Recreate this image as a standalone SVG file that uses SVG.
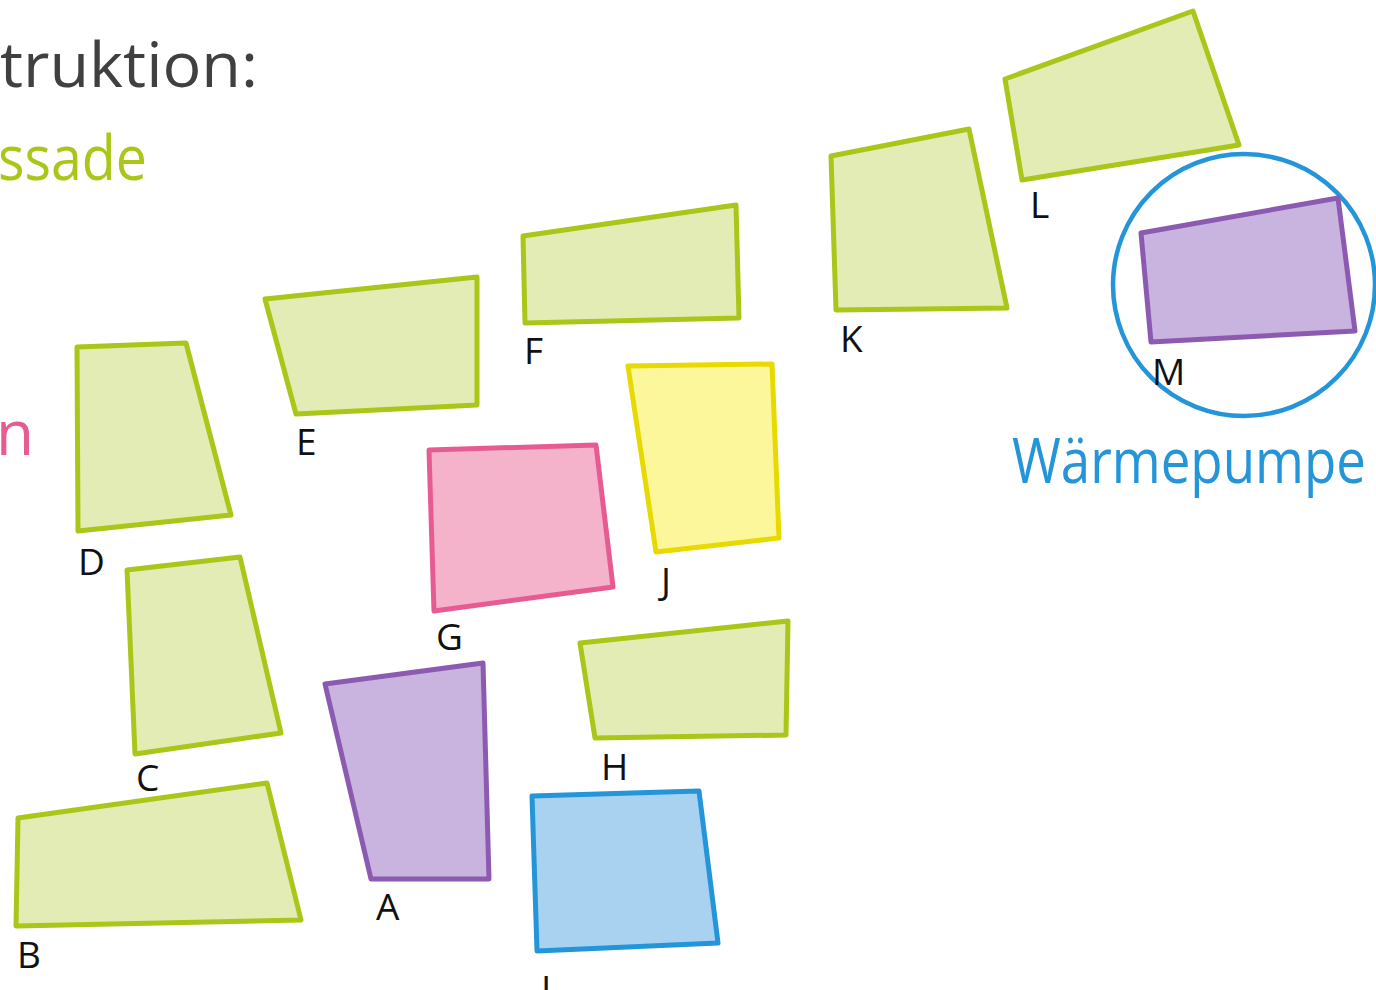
<svg xmlns="http://www.w3.org/2000/svg" width="1376" height="990" viewBox="0 0 1376 990">
<style>
.g{fill:#e2ecb4;stroke:#a9c619;stroke-width:5;stroke-linejoin:round}
.p{fill:#c9b3df;stroke:#8c5bb1;stroke-width:5;stroke-linejoin:round}
.k{fill:#f5b2cb;stroke:#e65c92;stroke-width:5;stroke-linejoin:round}
.y{fill:#fcf79a;stroke:#e8d900;stroke-width:5;stroke-linejoin:round}
.b{fill:#a9d2f0;stroke:#2595d9;stroke-width:5;stroke-linejoin:round}
.l{font-family:"Open Sans","Liberation Sans",sans-serif;font-size:37px;fill:#111}
.h{font-family:"Open Sans","Liberation Sans",sans-serif;font-size:62px}
</style>
<rect width="1376" height="990" fill="#fff"/>
<text class="h" x="0" y="87" fill="#404040" textLength="258" lengthAdjust="spacingAndGlyphs">truktion:</text>
<text class="h" x="-2" y="180" fill="#a9c619" textLength="149" lengthAdjust="spacingAndGlyphs">ssade</text>
<text class="h" x="-4" y="455" fill="#e65c92">n</text>
<text class="h" x="1012" y="483" fill="#2595d9" font-size="55" textLength="354" lengthAdjust="spacingAndGlyphs">Wärmepumpe</text>
<g id="L"><polygon class="g" points="1005,79 1193,11 1239,145 1022,180"/><text class="l" x="1030" y="218">L</text></g>
<g id="K"><polygon class="g" points="831,156 969,129 1007,308 836,310"/><text class="l" x="840" y="352">K</text></g>
<g id="F"><polygon class="g" points="523,236 736,205 739,318 525,323"/><text class="l" x="524" y="364">F</text></g>
<g id="E"><polygon class="g" points="265,299 477,277 477,405 296,414"/><text class="l" x="296" y="455">E</text></g>
<g id="D"><polygon class="g" points="77,347 186,343 231,515 78,531"/><text class="l" x="78" y="575">D</text></g>
<g id="G"><polygon class="k" points="429,450 596,445 613,587 434,611"/><text class="l" x="436" y="650">G</text></g>
<g id="J"><polygon class="y" points="628,366 772,364 779,538 656,552"/><text class="l" x="661" y="594">J</text></g>
<g id="M"><circle cx="1244" cy="285" r="131" fill="none" stroke="#2595d9" stroke-width="4.5"/><polygon class="p" points="1141,233 1338,198 1355,331 1151,342"/><text class="l" x="1152" y="385">M</text></g>
<g id="C"><polygon class="g" points="127,570 240,557 281,733 135,754"/><text class="l" x="136" y="791">C</text></g>
<g id="A"><polygon class="p" points="325,684 483,663 489,879 371,879"/><text class="l" x="376" y="920">A</text></g>
<g id="H"><polygon class="g" points="580,643 788,621 786,735 595,738"/><text class="l" x="601" y="780">H</text></g>
<g id="B"><polygon class="g" points="18,818 267,783 301,920 16,926"/><text class="l" x="17" y="968">B</text></g>
<g id="I"><polygon class="b" points="532,796 699,791 718,943 537,951"/><text class="l" x="541" y="1002">I</text></g>
<g id="connectors"></g>
</svg>
